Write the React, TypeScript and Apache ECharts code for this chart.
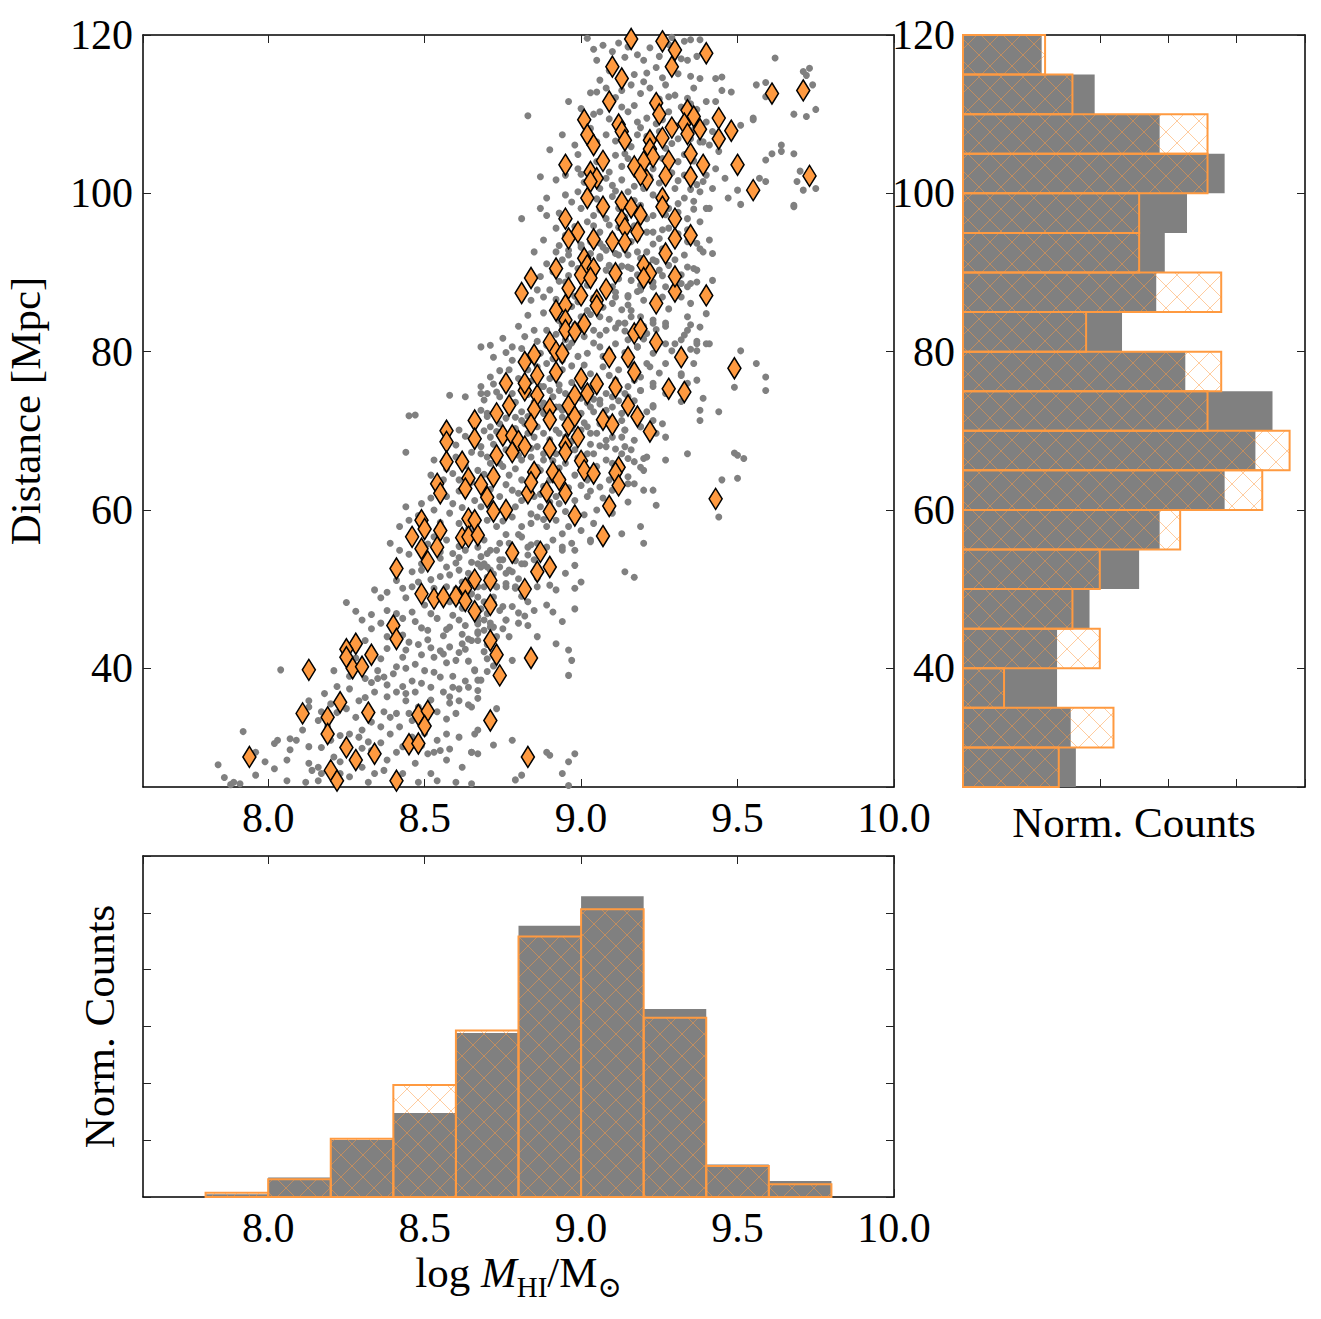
import React, { useEffect, useRef } from "react";
import * as echarts from "echarts";

// ---- histogram bins (normalised densities) ----
const massEdges = [7.8, 8.0, 8.2, 8.4, 8.6, 8.8, 9.0, 9.2, 9.4, 9.6, 9.8];
const massDensityAll = [0.012, 0.086, 0.251, 0.370, 0.721, 1.193, 1.323, 0.827, 0.143, 0.070];
const massDensitySel = [0.019, 0.078, 0.256, 0.493, 0.732, 1.146, 1.266, 0.789, 0.136, 0.056];

const distEdges = [25, 30, 35, 40, 45, 50, 55, 60, 65, 70, 75, 80, 85, 90, 95, 100, 105, 110, 115, 120];
const distDensityAll = [0.0066, 0.0063, 0.0055, 0.0055, 0.0074, 0.0103, 0.0115, 0.0153, 0.0171, 0.0181, 0.0130, 0.0093, 0.0113, 0.0118, 0.0131, 0.0153, 0.0115, 0.0077, 0.0046];
const distDensitySel = [0.0056, 0.0088, 0.0024, 0.0080, 0.0064, 0.0080, 0.0127, 0.0175, 0.0191, 0.0143, 0.0151, 0.0072, 0.0151, 0.0103, 0.0103, 0.0143, 0.0143, 0.0064, 0.0048];

// ---- full sample: [log M_HI, distance in Mpc] ----
const allGalaxies: number[][] = [
  [7.84,27.8],[7.86,26.2],[7.88,25.3],
  [8.46,52.2],[8.49,52.4],[8.57,52.8],[8.58,51.8],[8.61,52.4],[8.65,53.4],[8.67,53.2],
  [8.34,49.9],[8.38,49.6],[8.43,50.1],[8.46,50.3],[8.53,50.1],[8.57,50.3],[8.62,50.9],
  [8.25,48.3],[8.28,47.2],[8.33,46.8],[8.38,47.3],[8.43,46.3],[8.46,47.1],[8.47,45.9],[8.52,46.9],[8.54,46.3],[8.59,46.7],[8.61,46.1],[8.67,45.9],
  [8.33,45.0],[8.43,44.2],[8.45,43.3],[8.51,44.8],[8.58,45.2],[8.64,43.7],[8.67,44.6],
  [8.38,42.5],[8.44,42.3],[8.52,42.6],[8.53,41.4],[8.58,42.7],[8.62,43.1],[8.67,43.5],
  [8.04,39.8],[8.21,39.7],[8.35,39.7],[8.37,38.9],[8.40,39.3],[8.41,40.2],[8.44,40.0],[8.50,39.7],[8.53,39.5],[8.60,41.0],[8.66,39.7],
  [8.31,38.7],[8.35,38.7],[8.38,37.9],[8.43,37.7],[8.49,38.1],[8.59,37.6],[8.61,37.4],[8.64,37.6],[8.67,38.5],
  [8.13,35.9],[8.18,36.8],[8.20,35.5],[8.26,37.4],[8.29,35.9],[8.34,37.0],[8.38,36.4],[8.41,37.0],[8.47,37.0],[8.56,37.0],[8.58,36.4],[8.61,35.9],[8.67,36.2],
  [8.13,35.1],[8.17,34.5],[8.25,34.9],[8.28,33.8],[8.37,34.5],[8.39,33.8],[8.41,34.3],[8.45,34.3],[8.54,34.5],[8.60,34.3],[8.65,35.1],
  [7.92,32.0],[8.02,30.5],[8.03,30.9],[8.07,31.1],[8.09,30.9],[8.13,30.1],[8.20,30.9],[8.23,31.5],[8.26,31.7],[8.29,31.3],[8.32,30.7],[8.36,32.6],[8.39,31.7],[8.42,32.6],[8.46,31.3],[8.54,30.9],[8.57,31.7],[8.61,31.3],[8.67,32.2],
  [7.96,29.4],[7.99,28.2],[8.06,28.4],[8.13,28.0],[8.16,27.5],[8.21,28.8],[8.30,29.9],[8.33,29.6],[8.41,29.4],[8.43,30.1],[8.51,29.2],[8.53,29.4],[8.55,29.6],[8.58,29.8],[8.65,29.4],[8.67,29.2],
  [7.96,26.5],[8.06,25.8],[8.12,25.6],[8.14,27.1],[8.17,26.7],[8.23,26.7],[8.26,26.3],[8.30,27.5],[8.34,26.7],[8.37,27.1],[8.43,26.7],[8.47,28.0],[8.52,26.7],[8.57,28.4],[8.62,27.5],
  [7.89,25.6],[7.91,25.4],[8.16,25.8],[8.32,25.6],[8.41,25.8],[8.48,25.6],[8.54,25.8],[8.60,25.6],[8.65,25.4],
  [8.58,74.5],[8.63,74.3],[8.68,74.7],[8.69,73.9],[8.73,74.9],[8.81,76.0],[8.87,75.6],[8.90,75.1],[8.93,75.8],[8.95,74.7],[9.00,74.1],[9.02,73.5],[9.06,73.9],[9.10,74.3],[9.14,74.7],
  [8.45,71.9],[8.47,72.0],[8.68,72.6],[8.70,71.8],[8.81,72.4],[8.83,71.8],[8.88,73.5],[8.93,73.0],[9.00,72.2],[9.04,72.4],[9.08,72.6],[9.13,72.2],[9.15,72.8],
  [8.61,70.1],[8.71,70.5],[8.73,69.9],[8.82,70.9],[8.86,70.5],[8.88,69.7],[8.92,70.1],[8.95,69.2],[9.02,70.5],[9.05,69.7],[9.14,70.1],[9.10,69.2],
  [8.44,67.3],[8.53,66.3],[8.60,66.7],[8.68,68.0],[8.70,66.7],[8.76,67.6],[8.84,66.7],[8.86,68.0],[8.88,66.3],[8.92,67.1],[8.98,67.6],[9.02,67.1],[9.08,68.0],[9.13,67.1],[9.15,66.5],
  [8.52,64.4],[8.56,63.8],[8.59,64.6],[8.61,63.8],[8.67,65.0],[8.75,65.5],[8.77,64.4],[8.81,63.8],[8.87,65.0],[8.90,63.8],[8.98,64.4],[9.02,63.8],[9.06,62.9],[9.09,63.8],[9.15,64.2],
  [8.44,60.4],[8.49,60.8],[8.53,60.0],[8.57,61.7],[8.59,60.8],[8.66,61.2],[8.68,60.4],[8.74,61.7],[8.78,62.5],[8.81,61.2],[8.85,61.7],[8.87,60.4],[8.93,60.8],[8.98,61.2],[9.02,61.7],[9.05,60.0],[9.10,59.6],
  [8.42,57.9],[8.45,58.7],[8.58,59.6],[8.61,58.3],[8.70,58.7],[8.73,57.9],[8.78,59.1],[8.81,57.9],[8.84,58.3],[8.86,59.1],[8.89,57.9],[8.92,58.7],[8.96,57.9],[9.00,57.4],[9.04,58.3],[9.13,57.0],
  [8.39,55.8],[8.42,54.9],[8.57,56.2],[8.59,54.5],[8.69,56.2],[8.71,54.9],[8.74,55.8],[8.81,56.6],[8.83,55.3],[8.86,55.8],[8.91,56.2],[8.94,55.3],[8.98,54.9],[9.03,56.2],
  [8.68,54.1],[8.70,52.8],[8.74,53.7],[8.77,52.4],[8.82,53.2],[8.85,53.7],
  [8.67,50.3],[8.73,50.3],[8.76,50.7],[8.79,50.1],[8.86,50.3],
  [8.67,46.5],[8.70,46.9],[8.74,47.3],[8.78,47.8],[8.85,47.3],
  [8.71,45.7],[8.76,46.1],[8.83,45.4],
  [8.83,54.3],[8.89,55.3],[8.94,54.9],[8.97,55.8],[8.98,53.0],[8.95,52.0],[8.90,50.5],[8.92,49.9],[8.98,50.1],[9.00,50.9],
  [8.89,48.0],[8.91,47.1],[8.98,47.5],[8.94,45.9],[8.86,44.0],[8.92,43.1],[8.96,42.3],[8.97,41.0],[8.96,39.1],
  [9.14,52.2],[9.17,51.5],[9.20,55.8],[9.03,56.0],[8.78,41.0],[8.66,39.8],[8.68,38.5],[8.67,37.2],
  [8.76,46.1],[8.77,44.0],[8.72,45.2],[8.67,44.4],[8.69,42.1],[8.73,34.9],[8.66,31.7],[8.72,30.3],[8.78,30.9],
  [8.65,29.4],[8.89,29.4],[8.90,29.0],[8.98,29.2],[8.96,28.2],[8.94,26.7],[8.81,26.5],[8.79,25.9],[8.96,25.2],
  [8.67,55.3],[8.70,54.5],[8.73,54.9],[8.75,53.7],[8.77,55.8],[8.68,52.8],[8.71,52.4],[8.74,52.8],[8.76,52.0],[8.78,52.2],[8.84,55.6],[8.81,53.2],
  [8.69,50.3],[8.73,50.3],[8.76,50.3],[8.79,50.3],[8.67,49.0],[8.69,48.4],[8.75,47.8],[8.83,48.4],[8.69,46.1],[8.65,43.5],[8.71,45.2],[8.67,45.6],
  [8.88,94.1],[8.85,92.6],[8.92,92.6],[8.96,92.8],[9.00,93.2],[9.06,93.7],[9.08,92.8],[9.11,92.4],[9.15,92.2],[9.18,92.6],[9.23,95.1],[9.26,95.4],[9.34,95.4],[9.37,93.7],[9.41,94.1],[9.42,92.4],
  [9.34,90.7],[9.37,90.3],[9.32,88.6],[9.35,88.6],[9.42,89.0],[9.23,91.6],[9.25,90.3],[9.15,90.7],[9.16,89.0],[9.10,88.2],[9.06,92.0],[9.03,92.4],[8.97,91.1],[8.94,91.6],[8.89,91.1],[8.87,89.5],
  [8.90,87.8],[8.86,87.8],[8.84,86.5],[8.88,86.9],[8.97,85.7],[9.02,85.2],[9.00,84.4],[9.06,84.4],[9.10,86.1],[9.11,86.9],[9.15,86.9],[9.18,87.6],[9.23,88.2],[9.27,88.2],[9.32,86.9],[9.35,86.1],
  [9.40,84.8],[9.38,83.1],[9.34,82.7],[9.27,83.6],[9.23,84.0],[9.21,82.3],[9.12,83.6],[9.08,82.7],[9.04,82.7],[9.01,81.9],[8.95,81.5],[8.89,82.7],[8.85,82.7],[8.82,81.9],[8.78,80.6],[8.75,81.7],
  [8.71,80.8],[8.68,80.6],[8.72,79.3],[8.78,78.9],[8.87,79.8],[8.96,80.6],[9.02,79.8],[9.06,80.6],[9.11,81.0],[9.18,80.6],[9.23,79.8],[9.27,81.0],[9.32,81.5],[9.37,81.0],[9.41,81.0],
  [9.36,78.5],[9.32,77.2],[9.37,76.4],[9.27,78.5],[9.22,78.1],[9.19,76.8],[9.12,77.7],[9.07,78.1],[9.03,77.2],[8.94,77.7],[8.89,78.5],[8.83,77.7],[8.77,77.7],[8.71,76.8],[8.68,75.6],
  [8.70,74.7],[8.74,74.3],[8.78,74.7],[8.88,75.6],[8.93,75.1],[9.04,75.6],[9.08,74.7],[9.15,75.6],[9.19,75.1],[9.23,76.0],[9.27,74.7],
  [8.70,72.2],[8.74,70.9],[8.81,71.3],[8.88,72.2],[8.92,73.0],[9.03,73.0],[9.06,73.4],[9.10,73.0],[9.13,71.3],[9.19,70.5],[9.23,73.0],[9.26,70.9],[9.38,72.6],[9.44,72.4],[9.38,71.3],[9.32,73.7],
  [8.71,69.2],[8.77,69.2],[8.85,69.2],[8.88,67.1],[8.93,69.7],[9.03,69.7],[9.08,68.8],[9.13,69.2],[9.16,67.6],[9.21,66.7],[9.27,69.2],
  [8.68,67.1],[8.74,65.9],[8.81,66.3],[8.86,65.4],[8.95,65.9],[9.04,67.1],[9.08,66.3],[9.13,65.4],[9.19,65.4],[9.27,66.3],[9.34,67.1],
  [9.07,118.7],[9.10,117.9],[9.05,116.8],[9.18,117.5],[9.20,116.8],[9.25,117.3],[9.33,119.2],[9.35,119.4],[9.38,119.4],[9.34,116.8],[9.37,117.3],
  [9.06,114.3],[9.05,112.8],[9.08,113.3],[9.16,113.7],[9.20,114.1],[9.22,113.3],[9.27,113.7],[9.30,112.4],[9.36,113.3],[9.38,114.5],[9.40,111.6],[9.34,112.0],[9.43,111.6],
  [8.96,111.6],[9.00,110.7],[9.06,110.3],[9.15,110.3],[9.18,109.0],[9.21,109.5],[9.28,110.3],[9.34,109.0],[9.40,109.0],[9.42,107.8],
  [8.94,107.4],[8.98,106.1],[9.08,107.4],[9.18,107.4],[9.25,107.8],[9.31,106.9],[9.38,106.5],[9.41,106.1],[9.44,105.3],
  [8.95,102.3],[8.99,103.1],[9.09,102.7],[9.11,104.8],[9.15,104.4],[9.23,103.1],[9.31,104.0],[9.33,102.3],[9.40,102.3],[9.43,103.1],
  [8.95,99.8],[8.99,100.2],[9.06,100.6],[9.10,101.0],[9.15,100.2],[9.20,100.6],[9.23,99.8],[9.30,100.6],[9.33,99.4],[9.38,100.2],[9.40,98.1],
  [9.00,98.1],[9.04,97.2],[9.08,96.8],[9.12,98.1],[9.19,98.5],[9.23,97.2],[9.28,98.1],[9.34,96.8],[9.38,96.4],
  [8.95,94.7],[9.00,93.5],[9.06,95.1],[9.10,94.7],[9.16,93.9],[9.21,95.1],[9.25,94.3],[9.28,95.6],[9.34,93.9],[9.38,93.0],
  [8.96,92.2],[8.99,90.5],[9.06,91.8],[9.09,90.9],[9.12,92.2],[9.16,90.5],[9.21,92.6],[9.24,91.4],[9.28,90.9],[9.33,92.2],[9.36,90.5],[9.39,92.6],
  [8.95,88.8],[9.04,89.2],[9.12,89.2],[9.18,89.7],[9.23,88.8],[9.32,89.7],[9.37,88.8],
  [8.83,109.8],[8.90,105.5],[8.87,102.1],[8.92,101.7],[8.89,99.4],[8.81,96.8],[8.87,98.1],[8.89,97.2],[8.92,95.6],
  [9.34,84.4],[9.35,83.4],[9.27,83.2],[9.33,82.1],[9.37,81.3],[9.40,81.0],[9.30,81.0],[9.29,80.1],[9.35,80.3],[9.37,80.1],[9.51,80.1],[9.56,78.5],[9.59,76.8],[9.59,75.1],[9.49,75.5],
  [9.32,77.0],[9.34,76.0],[9.39,74.1],[9.23,73.2],[9.49,67.2],[9.50,66.9],[9.52,66.5],[9.45,63.8],[9.50,64.0],[9.44,59.1],
  [9.24,60.6],[9.23,62.5],[9.20,62.5],[9.17,63.3],[9.15,61.0],[9.20,65.0],[9.20,66.5],[9.17,66.1],[9.17,68.8],[9.14,68.0],[9.24,69.7],[9.19,57.9],[9.15,63.3],
  [9.15,87.1],[9.19,87.8],[9.23,88.2],[9.26,86.9],[9.34,88.2],[9.16,85.2],[9.14,83.6],[9.19,84.4],[9.23,83.6],[9.15,81.5],[9.18,80.6],[9.21,78.5],[9.17,76.4],[9.23,75.6],[9.19,75.1],[9.15,74.3],[9.23,71.3],[9.19,70.5],[9.14,70.1],
  [9.62,117.1],[9.43,114.5],[9.45,114.7],[9.56,113.7],[9.59,114.0],[9.59,112.2],[9.45,113.0],[9.48,112.8],[9.55,109.3],[9.55,109.5],[9.51,108.6],[9.68,110.0],[9.72,109.7],[9.75,110.6],
  [9.71,115.4],[9.73,115.8],[9.72,114.9],[9.74,113.7],[9.64,106.1],[9.64,105.3],[9.61,105.0],[9.59,104.2],[9.68,105.0],[9.70,102.8],[9.69,101.5],[9.71,100.4],[9.75,100.6],
  [9.57,101.9],[9.59,101.5],[9.46,101.9],[9.50,100.4],[9.47,99.4],[9.51,98.6],[9.68,98.5],[9.68,98.3],[9.41,98.1],[9.39,106.5],[9.39,101.5],
  // densest part of the band
  [9.02,119.6],[9.12,119.0],[9.22,118.4],[9.29,119.7],[9.14,117.2],[9.24,115.9],[9.31,115.1],[9.09,115.5],[9.17,115.0],[9.26,114.6],[9.35,114.8],
  [9.11,112.1],[9.19,112.6],[9.25,111.9],[9.32,110.9],[9.03,112.7],[9.09,109.4],[9.13,110.9],[9.24,108.8],[9.30,108.6],[9.37,110.6],
  [9.03,108.2],[9.11,106.6],[9.16,105.9],[9.21,107.2],[9.27,105.7],[9.35,106.9],[8.99,104.9],[9.05,104.0],[9.13,103.4],[9.19,103.0],
  [9.26,104.4],[9.36,104.1],[9.01,101.4],[9.08,101.9],[9.13,101.7],[9.25,101.3],[9.29,102.6],[9.37,101.1],[9.42,100.6],[9.17,100.9],[9.02,100.1],
  [8.97,98.9],[9.05,99.3],[9.10,99.6],[9.17,99.1],[9.26,100.1],[9.31,98.7],[9.36,99.0],[8.93,97.5],[9.02,96.4],[9.06,97.9],[9.14,97.0],
  [9.21,96.8],[9.31,97.6],[9.36,98.0],[8.98,95.8],[9.04,95.9],[9.12,95.7],[9.18,94.3],[9.23,93.6],[9.31,94.9],[8.93,93.4],[8.99,94.6],
  [9.07,93.2],[9.14,92.9],[9.19,91.8],[9.30,91.6],[8.91,90.1],[8.96,89.6],[9.02,88.4],[9.08,90.3],[9.13,90.8],[9.19,88.4],[9.26,89.6],
  [8.92,86.6],[8.99,86.3],[9.07,85.6],[9.13,85.3],[9.20,86.5],[9.28,85.4],[8.93,88.9],
  [8.83,84.6],[8.88,84.9],[8.93,83.9],[9.03,84.7],[9.09,84.1],[9.16,84.4],[9.20,83.2],[8.80,83.2],[8.86,81.3],[8.92,82.2],[8.98,83.4],
  [9.06,82.1],[9.14,82.6],[9.24,82.8],[8.76,79.9],[8.81,80.4],[8.84,79.0],[8.91,79.1],[8.99,79.4],[9.04,81.1],[9.09,80.1],[9.14,79.9],
  [9.20,81.6],[8.74,77.6],[8.80,76.6],[8.86,78.1],[8.97,78.2],[9.01,76.5],[9.09,77.0],[9.16,78.3],[9.25,77.3],[8.72,75.9],[8.79,73.6],
  [8.84,76.3],[8.91,74.3],[8.97,76.1],[9.01,75.3],[9.11,76.4],[9.17,73.8],[8.76,71.6],[8.85,73.6],[8.94,71.7],[9.01,71.0],[9.07,72.1],
  [9.12,73.8],[9.21,72.4],
  [8.63,69.3],[8.69,70.0],[8.79,70.3],[8.83,69.7],[8.90,68.9],[8.97,70.3],[9.06,70.9],[8.60,68.2],[8.65,67.3],[8.72,68.3],[8.80,66.9],
  [8.91,66.2],[8.99,66.6],[9.06,68.1],[9.11,67.7],[8.57,65.2],[8.63,65.6],[8.71,65.9],[8.79,65.2],[8.84,64.1],[8.94,63.9],[9.00,63.1],
  [9.05,65.5],[8.55,62.8],[8.61,62.4],[8.65,63.5],[8.71,62.6],[8.76,63.2],[8.88,63.0],[8.92,61.7],[8.96,62.8],[9.07,61.5],[8.52,61.5],
  [8.62,60.3],[8.71,60.9],[8.79,60.4],[8.84,59.5],[8.90,61.0],[8.95,59.8],[9.01,59.4],[8.48,59.3],[8.55,58.4],[8.64,57.6],[8.75,58.6],
  [8.80,56.9],[8.88,58.8],[8.94,57.0],[8.53,56.6],[8.61,55.4],[8.66,57.4],[8.76,56.9],
  [8.45,54.4],[8.51,55.7],[8.55,54.7],[8.63,54.9],[8.49,53.2],[8.52,51.2],[8.60,53.3],[8.64,52.0],[8.41,51.1],[8.48,50.9],[8.55,51.6],
  [8.70,51.5],[8.80,51.3],[8.36,48.9],[8.44,48.9],[8.50,48.0],[8.65,49.4],[8.72,49.0],[8.81,49.1],[8.30,46.1],[8.36,45.7],[8.41,46.9],
  [8.49,45.1],[8.56,44.1],[8.63,45.4],[8.73,44.0],[8.80,45.7],[8.31,43.5],[8.38,44.0],[8.48,43.0],[8.55,42.2],[8.61,42.0],[8.70,43.0],
  [8.28,41.3],[8.36,41.2],[8.43,41.4],[8.49,41.7],[8.57,40.7],[8.64,40.9],[8.72,40.3],
  [8.26,39.0],[8.33,38.2],[8.46,38.4],[8.55,38.9],[8.22,37.7],[8.31,36.3],[8.44,35.9],[8.52,36.0],[8.64,35.4],[8.16,33.4],[8.22,34.4],
  [8.33,33.2],[8.46,33.4],[8.57,33.6],[8.11,32.2],[8.19,32.6],[8.30,32.2],[8.50,31.8],[8.07,29.7],[8.17,30.0],[8.36,30.6],[8.49,30.2],
  [8.02,27.3],[8.23,28.2],[8.38,28.4],
  [8.58,48.4],[8.62,47.6],[8.68,47.5],[8.72,48.2],[8.80,47.0],[8.57,44.9],[8.62,44.3],[8.69,44.8],[8.75,45.0],[8.82,46.6],
  [8.60,50.0],[8.64,51.1],[8.72,51.9],[8.79,53.6],[8.86,51.4],[8.55,53.9],[8.61,54.0],[8.69,53.2],[8.56,41.8],[8.63,42.4],
  [8.70,41.2],[8.59,39.0],[8.63,38.4],[8.70,39.6],[8.52,37.6],[8.58,35.6],[8.48,35.1],[8.44,36.8],[8.47,40.5],[8.51,43.6],
  [9.04,118.2],[9.15,118.5],[9.28,118.8],[9.32,117.0],[9.21,115.2],[9.13,113.0],[9.28,112.2],[9.35,111.3],[9.17,111.1],[9.04,110.0],
  [9.19,108.3],[9.26,109.3],[9.36,108.0],[9.05,106.5],[9.14,105.0],[9.22,104.0],[9.29,106.3],[9.33,104.9],[9.00,102.4],[9.11,100.3],
  [9.22,102.1],[9.31,101.6],[9.35,100.5],[9.27,97.3],[9.17,95.9],[9.09,96.0],[9.03,93.9],[9.26,93.0],[9.20,90.0],[9.11,87.5],
  [8.83,74.6],[8.90,76.6],[8.97,73.8],[9.04,74.0],[9.12,75.2],[8.87,72.9],[8.94,72.6],[9.00,70.1],[9.09,71.5],[8.79,71.7],
  [8.84,67.8],[8.97,68.7],[9.03,68.3],[9.10,65.9],[8.93,65.3],[8.87,62.0],[8.80,62.1],[9.03,62.4],[9.10,62.5],[8.69,64.5],
  [8.94,78.9],[9.01,78.3],[9.07,79.4],[8.89,80.8],[8.97,81.1],[9.11,83.0],[9.15,85.9],[8.98,87.0],[9.04,86.8],[8.94,83.3],
];

// ---- selected subsample: [log M_HI, distance in Mpc] ----
const selectedGalaxies: number[][] = [
  [8.41,52.6],[8.51,53.5],[8.66,51.2],[8.49,49.4],[8.53,48.8],[8.56,49.0],[8.60,49.1],[8.63,50.1],[8.63,48.5],[8.66,47.2],
  [8.40,45.4],[8.41,43.7],[8.28,43.1],[8.25,42.4],[8.25,41.4],[8.33,41.7],[8.27,40.0],[8.30,40.2],[8.13,39.8],[8.23,35.7],
  [8.11,34.3],[8.19,33.8],[8.32,34.4],[8.48,34.1],[8.51,34.6],[8.50,32.7],[8.19,31.7],[8.45,30.4],[8.48,30.5],[8.25,30.0],
  [8.34,29.2],[8.28,28.4],[7.94,28.8],[8.20,27.1],[8.22,25.8],[8.41,25.8],
  [8.76,76.0],[8.82,75.1],[8.86,74.5],[8.77,73.2],[8.73,72.2],[8.85,72.7],[8.90,72.8],[8.96,73.2],[8.98,74.5],[9.02,74.7],
  [9.05,75.9],[9.11,75.5],[9.15,73.2],[8.90,71.4],[8.84,70.8],[8.96,70.7],[8.98,71.8],[9.07,71.4],[9.10,70.8],[8.66,71.3],
  [8.57,70.0],[8.66,69.0],[8.57,68.6],[8.75,69.4],[8.78,69.4],[8.80,68.7],[8.82,68.0],[8.78,67.3],[8.73,66.9],[8.90,67.8],
  [8.95,68.2],[8.95,67.3],[8.99,69.2],[8.57,66.1],[8.62,66.1],[8.64,64.0],[8.72,64.2],[8.85,64.8],[8.91,64.8],[8.93,63.8],
  [9.00,66.2],[9.01,65.0],[9.04,64.6],[9.12,65.4],[9.11,64.7],[9.12,63.1],[8.54,63.3],[8.55,62.1],[8.63,62.7],[8.68,63.2],
  [8.70,61.6],[8.83,62.1],[8.84,63.5],[8.89,62.3],[8.95,62.1],[8.90,59.8],[8.72,59.8],[8.76,60.0],[8.64,58.9],[8.66,58.7],
  [8.98,59.3],[9.09,60.5],[9.07,56.7],[8.49,58.7],[8.50,57.6],[8.55,57.4],[8.46,56.6],[8.49,55.1],[8.54,55.3],[8.62,56.5],
  [8.64,56.6],[8.67,56.8],[8.78,54.6],[8.87,54.7],[8.90,52.8],[8.86,52.2],[8.71,51.1],[8.82,50.0],[8.71,48.0],
  [8.82,76.0],[9.00,76.6],[9.18,71.8],[9.22,69.9],[9.28,75.3],[9.33,74.9],
  [8.84,89.3],[8.81,87.4],[8.92,90.5],
  [9.30,87.6],[9.40,87.1],[8.96,88.0],[9.00,87.1],[9.08,87.9],[9.05,86.5],[9.05,85.8],[8.92,85.2],[8.95,85.9],[9.24,86.1],
  [8.95,84.0],[8.95,82.7],[8.98,82.5],[9.01,83.5],[9.17,82.3],[9.19,82.9],[9.24,81.2],[8.90,81.2],[8.85,79.6],[8.82,78.7],
  [8.92,80.0],[8.94,79.8],[8.92,77.4],[8.86,77.0],[9.09,79.3],[9.15,79.3],[9.17,77.4],[9.32,79.3],
  [9.16,119.5],[9.26,119.2],[9.30,118.1],[9.40,117.7],[9.29,116.0],[9.10,116.0],[9.13,114.5],[9.09,111.6],[9.61,112.6],[9.71,113.0],
  [9.24,111.4],[9.25,110.0],[9.34,110.5],[9.36,109.7],[9.44,109.5],[9.48,107.9],[9.01,109.3],[9.12,108.7],[9.13,107.8],[9.14,106.7],
  [9.02,107.4],[9.04,106.1],[9.29,108.3],[9.33,108.8],[9.38,108.1],[9.34,107.5],[9.44,106.9],[9.22,106.7],[9.26,107.0],[9.22,105.6],
  [9.23,104.6],[9.20,104.0],[9.28,104.1],[9.35,105.0],[9.39,103.6],[9.50,103.6],[9.73,102.2],[8.95,103.6],[9.07,104.1],[9.03,102.7],
  [9.05,101.9],[9.03,101.5],[9.17,103.4],[9.21,101.7],[9.19,102.3],[9.27,102.2],[9.35,102.1],[9.55,100.4],[9.02,99.4],[9.07,98.3],
  [9.13,98.9],[9.16,98.2],[9.19,97.3],[9.26,99.4],[9.26,98.3],[9.30,96.8],[8.95,96.8],[8.99,95.1],[8.96,94.3],[9.04,94.2],
  [9.10,93.9],[9.13,96.6],[9.14,95.6],[9.14,93.8],[9.18,95.1],[9.30,94.3],[9.35,94.7],[9.27,92.4],[9.01,91.8],[9.02,90.9],
  [9.04,90.5],[9.00,89.7],[9.03,89.3],[9.11,89.9],[9.20,90.9],[9.22,89.9],[9.20,89.3],[9.30,89.5],
  [9.49,77.9],[9.43,61.4],
  [8.71,43.5],[8.73,41.7],[8.74,39.1],[8.84,41.3],[8.71,33.4],[8.83,28.8],
];

const FONT = '"Liberation Serif", "DejaVu Serif", serif';
const ORANGE = "#ff9a40";
const GRAY = "#808080";

function makeHatch(w: number, h: number) {
  const c = document.createElement("canvas");
  c.width = w;
  c.height = h;
  const g = c.getContext("2d") as CanvasRenderingContext2D;
  g.strokeStyle = "rgba(255,154,64,0.5)";
  g.lineWidth = 1;
  g.beginPath();
  g.moveTo(0, 0);
  g.lineTo(w, h);
  g.moveTo(w, 0);
  g.lineTo(0, h);
  g.stroke();
  return { image: c, repeat: "repeat", imageWidth: w, imageHeight: h };
}

const halfStep = (v: number) => Math.abs(v * 2 - Math.round(v * 2)) < 1e-6;

function frameAxis(gridIndex: number, position: string, range: any, label?: any) {
  return {
    type: "value",
    gridIndex,
    position,
    ...range,
    axisLine: { show: true, onZero: false, lineStyle: { color: "#000", width: 1.5 } },
    axisTick: { show: true, inside: true, length: 8, lineStyle: { color: "#222", width: 1 } },
    splitLine: { show: false },
    axisLabel: label
      ? { show: true, fontFamily: FONT, fontSize: 42, color: "#000", ...label }
      : { show: false },
  };
}

const massRange = { min: 7.6, max: 10.0 };
const distRange = { min: 25, max: 120 };
const massFmt = (v: number) => (halfStep(v) && v >= 7.99 ? v.toFixed(1) : "");
const distFmt = (v: number) => (Math.round(v) % 20 === 0 && v >= 39 ? String(Math.round(v)) : "");

function verticalBars(edges: number[], vals: number[], xi: number, yi: number, style: any, z: number) {
  return {
    type: "custom",
    xAxisIndex: xi,
    yAxisIndex: yi,
    silent: true,
    z,
    data: vals.map((v, i) => [edges[i], edges[i + 1], v]),
    encode: { x: [0, 1], y: 2 },
    renderItem: (_p: any, api: any) => {
      const a = api.coord([api.value(0), api.value(2)]);
      const b = api.coord([api.value(1), 0]);
      return {
        type: "rect",
        shape: { x: a[0], y: a[1], width: b[0] - a[0], height: b[1] - a[1] },
        style,
      };
    },
  };
}

function horizontalBars(edges: number[], vals: number[], xi: number, yi: number, style: any, z: number) {
  return {
    type: "custom",
    xAxisIndex: xi,
    yAxisIndex: yi,
    silent: true,
    z,
    data: vals.map((v, i) => [edges[i], edges[i + 1], v]),
    encode: { y: [0, 1], x: 2 },
    renderItem: (_p: any, api: any) => {
      const a = api.coord([0, api.value(1)]);
      const b = api.coord([api.value(2), api.value(0)]);
      return {
        type: "rect",
        shape: { x: a[0], y: a[1], width: b[0] - a[0], height: b[1] - a[1] },
        style,
      };
    },
  };
}

export default function App() {
  const ref = useRef<HTMLDivElement>(null);

  useEffect(() => {
    if (!ref.current) return;
    const chart = echarts.init(ref.current, undefined, { renderer: "svg" });
    const hatch = makeHatch(22, 22);
    const selStyle = { fill: hatch, stroke: ORANGE, lineWidth: 2 };
    const allStyle = { fill: GRAY };

    chart.setOption({
      animation: false,
      backgroundColor: "#fff",
      grid: [
        { left: 143, top: 35, width: 751, height: 752, outerBoundsMode: "none", containLabel: false },
        { left: 963, top: 35, width: 342, height: 752, outerBoundsMode: "none", containLabel: false },
        { left: 143, top: 856, width: 751, height: 341, outerBoundsMode: "none", containLabel: false },
      ],
      xAxis: [
        frameAxis(0, "bottom", massRange, { margin: 10, formatter: massFmt, showMinLabel: false }),
        frameAxis(0, "top", massRange),
        {
          ...frameAxis(1, "bottom", { min: 0, max: 0.02, interval: 0.004 }),
          name: "Norm. Counts",
          nameLocation: "middle",
          nameGap: 14,
          nameTextStyle: { fontFamily: FONT, fontSize: 43, color: "#000", verticalAlign: "top" },
        },
        frameAxis(1, "top", { min: 0, max: 0.02, interval: 0.004 }),
        {
          ...frameAxis(2, "bottom", massRange, { margin: 10, formatter: massFmt, showMinLabel: false }),
          name: "{n|log }{i|M}{s|HI}{n|/M}{s|⊙}",
          nameLocation: "middle",
          nameGap: 54,
          nameTextStyle: {
            fontFamily: FONT,
            color: "#000",
            rich: {
              n: { fontFamily: FONT, fontSize: 43, color: "#000", lineHeight: 46, verticalAlign: "top" },
              i: { fontFamily: FONT, fontSize: 43, fontStyle: "italic", color: "#000", lineHeight: 46, verticalAlign: "top" },
              s: { fontFamily: FONT, fontSize: 29, color: "#000", lineHeight: 72 },
            },
          },
        },
        frameAxis(2, "top", massRange),
      ],
      yAxis: [
        {
          ...frameAxis(0, "left", distRange, { margin: 10, formatter: distFmt, showMinLabel: false }),
          name: "Distance [Mpc]",
          nameLocation: "middle",
          nameGap: 96,
          nameTextStyle: { fontFamily: FONT, fontSize: 43, color: "#000" },
        },
        frameAxis(0, "right", distRange),
        frameAxis(1, "left", distRange, { margin: 8, formatter: distFmt, showMinLabel: false }),
        frameAxis(1, "right", distRange),
        {
          ...frameAxis(2, "left", { min: 0, max: 1.5, interval: 0.25 }),
          name: "Norm. Counts",
          nameLocation: "middle",
          nameGap: 22,
          nameTextStyle: { fontFamily: FONT, fontSize: 43, color: "#000" },
        },
        frameAxis(2, "right", { min: 0, max: 1.5, interval: 0.25 }),
      ],
      series: [
        {
          type: "scatter",
          xAxisIndex: 0,
          yAxisIndex: 0,
          symbol: "circle",
          symbolSize: 7,
          silent: true,
          itemStyle: { color: GRAY, opacity: 1 },
          data: allGalaxies,
          z: 2,
        },
        {
          type: "scatter",
          xAxisIndex: 0,
          yAxisIndex: 0,
          symbol: "diamond",
          symbolSize: [13, 21],
          silent: true,
          itemStyle: { color: ORANGE, borderColor: "#000", borderWidth: 1.6, opacity: 1 },
          data: selectedGalaxies,
          z: 3,
        },
        horizontalBars(distEdges, distDensityAll, 2, 2, allStyle, 2),
        horizontalBars(distEdges, distDensitySel, 2, 2, selStyle, 3),
        verticalBars(massEdges, massDensityAll, 4, 4, allStyle, 2),
        verticalBars(massEdges, massDensitySel, 4, 4, selStyle, 3),
      ],
    });

    return () => chart.dispose();
  }, []);

  return (
    <div
      ref={ref}
      style={{ position: "absolute", left: 0, top: 0, width: 1321, height: 1319, background: "#fff" }}
    />
  );
}
